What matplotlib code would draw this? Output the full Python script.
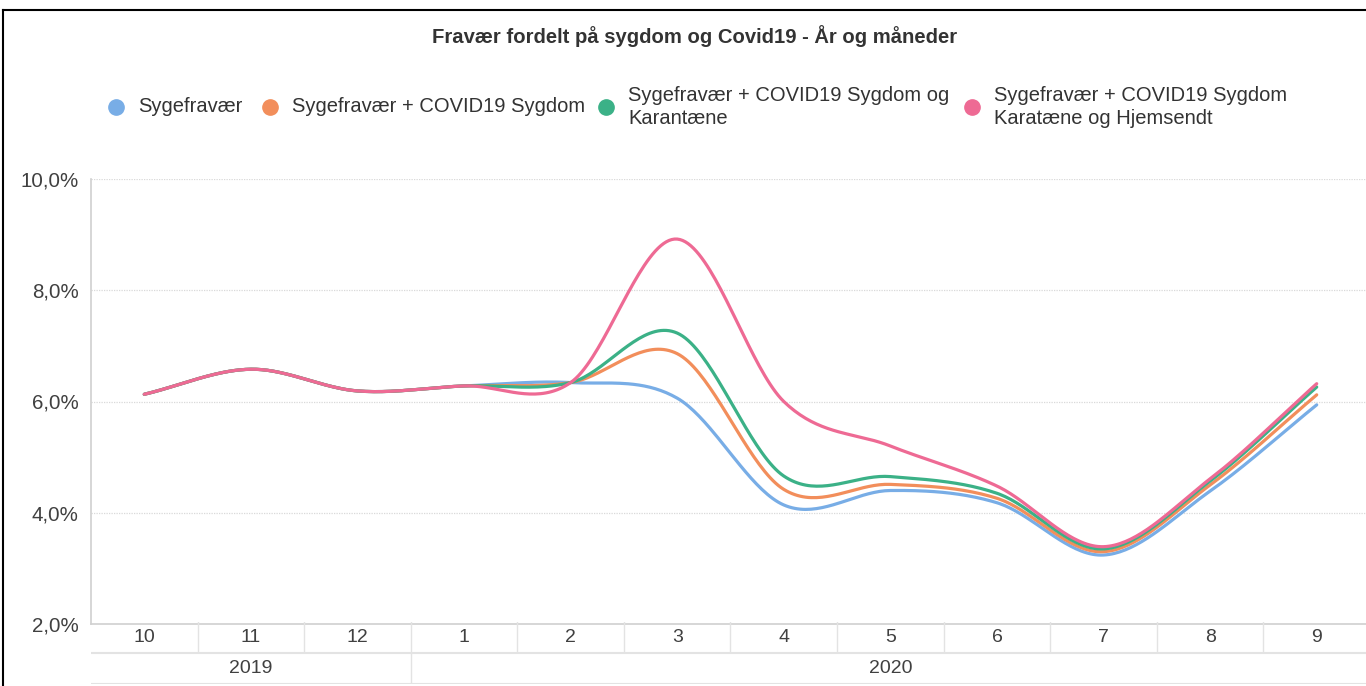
import numpy as np
import matplotlib.pyplot as plt
from matplotlib.lines import Line2D

plt.rcParams['font.family'] = ['Liberation Sans', 'DejaVu Sans']

# Data
months = ['10', '11', '12', '1', '2', '3', '4', '5', '6', '7', '8', '9']
years = ['2019', '2020']
year_span = [3, 9]

sygefravaer  = [6.13, 6.58, 6.19, 6.28, 6.34, 6.06, 4.14, 4.40, 4.18, 3.24, 4.39, 5.94]
covid_sygdom = [6.13, 6.58, 6.19, 6.28, 6.34, 6.86, 4.42, 4.51, 4.26, 3.30, 4.50, 6.12]
karantaene   = [6.13, 6.58, 6.19, 6.28, 6.34, 7.23, 4.66, 4.65, 4.35, 3.35, 4.57, 6.26]
hjemsendt    = [6.13, 6.58, 6.19, 6.28, 6.34, 8.92, 6.00, 5.20, 4.48, 3.39, 4.61, 6.32]

series = [sygefravaer, covid_sygdom, karantaene, hjemsendt]
labels = ['Sygefravær',
          'Sygefravær + COVID19 Sygdom',
          'Sygefravær + COVID19 Sygdom og\nKarantæne',
          'Sygefravær + COVID19 Sygdom\nKaratæne og Hjemsendt']
colors = ['#78ade6', '#f28e5b', '#3bb187', '#ee6a94']

W, H = 1366, 686


def smooth(y, n=40):
    # Catmull-Rom style cubic hermite through the points
    y = np.asarray(y, float)
    m = np.gradient(y)
    t = np.linspace(0, 1, n)
    h00 = 2 * t**3 - 3 * t**2 + 1
    h10 = t**3 - 2 * t**2 + t
    h01 = -2 * t**3 + 3 * t**2
    h11 = t**3 - t**2
    xs, ys = [], []
    for i in range(len(y) - 1):
        xs.append(i + t)
        ys.append(h00 * y[i] + h10 * m[i] + h01 * y[i + 1] + h11 * m[i + 1])
    return np.concatenate(xs), np.concatenate(ys)


fig = plt.figure(figsize=(W / 100, H / 100), dpi=100)

x0, x1 = 91 / W, 1370 / W
ax = fig.add_axes([x0, 1 - 624 / H, x1 - x0, (624 - 179) / H])
ax.set_xlim(-0.5, len(months) - 0.5)
ax.set_ylim(2, 10)

for vals, c in zip(series, colors):
    xs, ys = smooth(vals)
    ax.plot(xs, ys, color=c, lw=2.3, solid_capstyle='round', zorder=3)

ax.set_yticks([2, 4, 6, 8, 10])
ax.set_yticklabels([f'{v:.1f}'.replace('.', ',') + '%' for v in [2, 4, 6, 8, 10]])
ax.tick_params(axis='y', length=0, pad=9, labelsize=14.8, labelcolor='#404040')
ax.set_xticks([])
for v in [4, 6, 8, 10]:
    ax.axhline(v, color='#d9d9d9', lw=0.9, ls=(0, (1, 1)), zorder=1)
for s in ['top', 'right']:
    ax.spines[s].set_visible(False)
ax.spines['left'].set_color('#d0d0d0')
ax.spines['bottom'].set_color('#d0d0d0')
ax.spines['left'].set_linewidth(1.2)
ax.spines['bottom'].set_linewidth(1.2)

# month / year table below the axis
tab = fig.add_axes([x0, 2 / H, x1 - x0, 62 / H])
tab.set_xlim(-0.5, len(months) - 0.5)
tab.set_ylim(0, 2)
tab.axis('off')
for i, m in enumerate(months):
    tab.text(i, 1.5, m, ha='center', va='center', fontsize=14, color='#404040')
for i in range(1, len(months)):
    tab.plot([i - 0.5, i - 0.5], [1.03, 2], color='#e3e3e3', lw=1)
tab.plot([-0.5, len(months) - 0.5], [1.0, 1.0], color='#e3e3e3', lw=1.5)
tab.plot([-0.5, len(months) - 0.5], [0.0, 0.0], color='#e3e3e3', lw=1.5)
start = 0
for yr, span in zip(years, year_span):
    tab.text(start + span / 2 - 0.5, 0.5, yr, ha='center', va='center',
             fontsize=14, color='#404040')
    if start > 0:
        tab.plot([start - 0.5, start - 0.5], [0, 0.97], color='#e3e3e3', lw=1)
    start += span

# title
fig.text(695 / W, 1 - 36 / H, 'Fravær fordelt på sygdom og Covid19 - År og måneder',
         ha='center', va='center', fontsize=14.6, fontweight='bold', color='#333333')

# legend
dot_x = [116, 270, 606, 972]
ly = 1 - 107 / H
for dx, lab, c in zip(dot_x, labels, colors):
    fig.add_artist(Line2D([dx / W], [ly], marker='o', ms=11, color=c, lw=0,
                          transform=fig.transFigure))
    fig.text((dx + 22) / W, ly, lab, ha='left', va='center', fontsize=14.5,
             color='#333333', linespacing=1.22)

# outer frame (top and left edges)
fig.add_artist(Line2D([3 / W, 1], [1 - 10 / H, 1 - 10 / H], color='black', lw=1.5,
                      transform=fig.transFigure))
fig.add_artist(Line2D([3 / W, 3 / W], [0, 1 - 10 / H], color='black', lw=1.5,
                      transform=fig.transFigure))

fig.savefig('out.png', dpi=100)
